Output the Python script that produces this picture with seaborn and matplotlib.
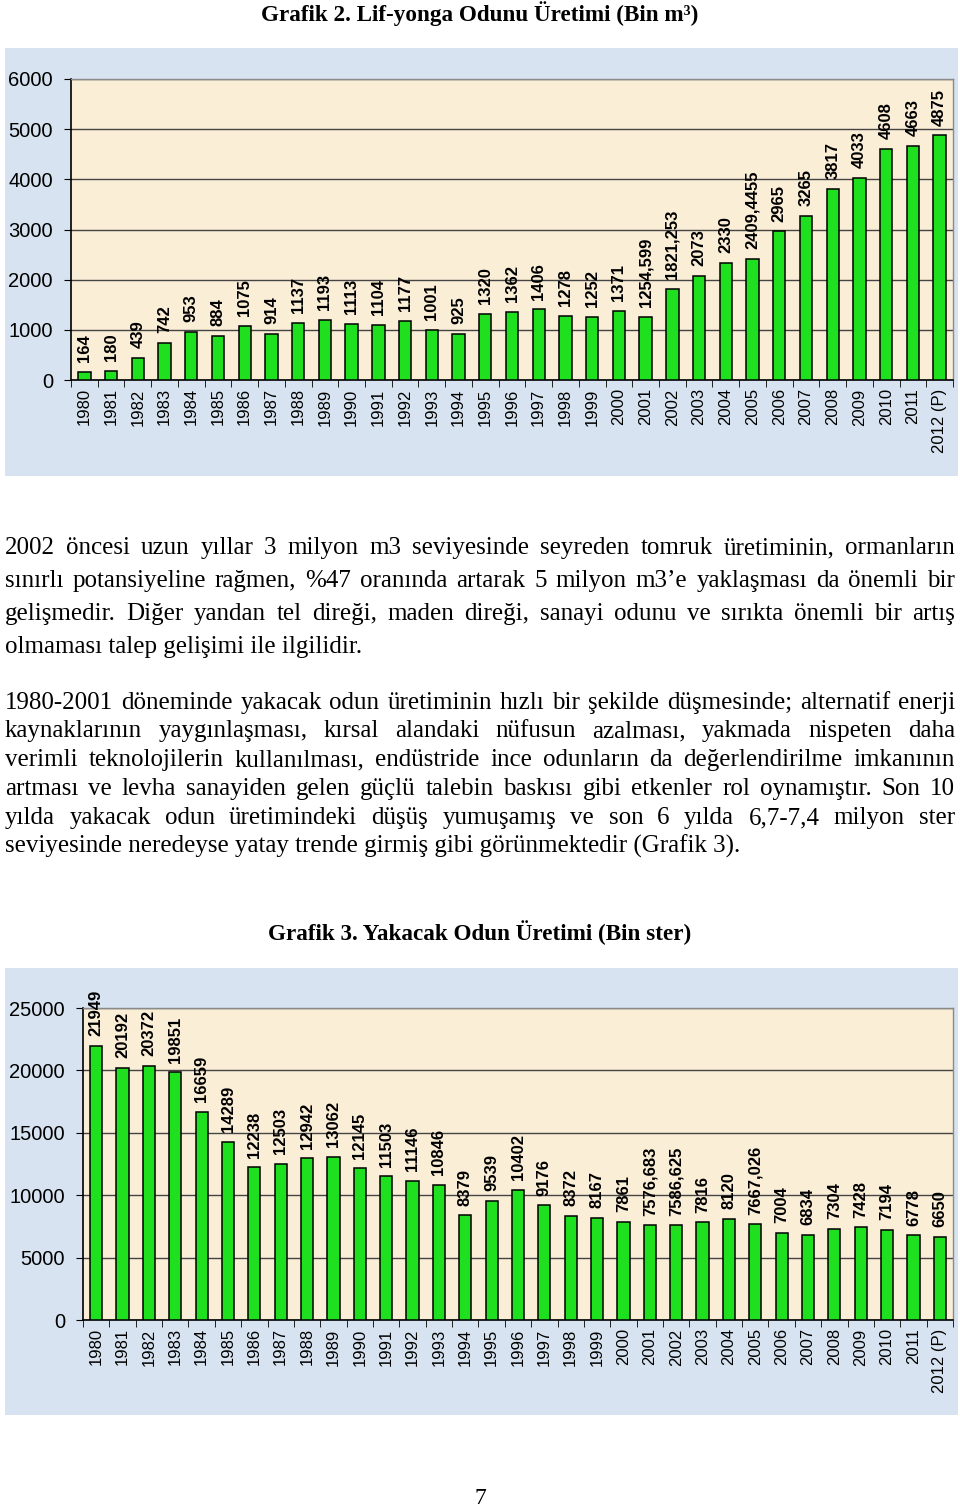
import matplotlib
matplotlib.use("Agg")
import matplotlib.pyplot as plt
import seaborn as sns
import numpy as np
import pandas as pd
from matplotlib.patches import Rectangle
from matplotlib.ticker import MultipleLocator, FixedLocator

# --- data ---
years = [str(y) for y in range(1980, 2012)] + ["2012 (P)"]

lif_yonga = [164, 180, 439, 742, 953, 884, 1075, 914, 1137, 1193, 1113, 1104, 1177,
             1001, 925, 1320, 1362, 1406, 1278, 1252, 1371, 1254.599, 1821.253, 2073,
             2330, 2409.4455, 2965, 3265, 3817, 4033, 4608, 4663, 4875]

yakacak = [21949, 20192, 20372, 19851, 16659, 14289, 12238, 12503, 12942, 13062, 12145,
           11503, 11146, 10846, 8379, 9539, 10402, 9176, 8372, 8167, 7861, 7576.683,
           7586.625, 7816, 8120, 7667.026, 7004, 6834, 7304, 7428, 7194, 6778, 6650]

title1 = "Grafik 2. Lif-yonga Odunu Üretimi (Bin m³)"
title2 = "Grafik 3. Yakacak Odun Üretimi (Bin ster)"

para1 = [
    "2002 öncesi uzun yıllar 3 milyon m3 seviyesinde seyreden tomruk üretiminin, ormanların",
    "sınırlı potansiyeline rağmen, %47 oranında artarak 5 milyon m3’e yaklaşması da önemli bir",
    "gelişmedir. Diğer yandan tel direği, maden direği, sanayi odunu ve sırıkta önemli bir artış",
    "olmaması talep gelişimi ile ilgilidir.",
]
para2 = [
    "1980-2001 döneminde yakacak odun üretiminin hızlı bir şekilde düşmesinde; alternatif enerji",
    "kaynaklarının yaygınlaşması, kırsal alandaki nüfusun azalması, yakmada nispeten daha",
    "verimli teknolojilerin kullanılması, endüstride ince odunların da değerlendirilme imkanının",
    "artması ve levha sanayiden gelen güçlü talebin baskısı gibi etkenler rol oynamıştır. Son 10",
    "yılda yakacak odun üretimindeki düşüş yumuşamış ve son 6 yılda 6,7-7,4 milyon ster",
    "seviyesinde neredeyse yatay trende girmiş gibi görünmektedir (Grafik 3).",
]

W, H = 960, 1511
fig = plt.figure(figsize=(W / 100, H / 100), dpi=100)
fig.patch.set_facecolor("white")

PANEL = "#d7e3f0"
PLOT_BG = "#fbeed6"
GREEN = "#1ee01e"
SERIF = ["Liberation Serif", "DejaVu Serif"]
SANS = ["Liberation Sans", "DejaVu Sans"]


def px_rect(x0, y0, x1, y1):
    return [x0 / W, 1 - y1 / H, (x1 - x0) / W, (y1 - y0) / H]


def draw_chart(panel, area, values, ymax, ystep):
    x0, y0, x1, y1 = panel
    fig.patches.append(Rectangle((x0 / W, 1 - y1 / H), (x1 - x0) / W, (y1 - y0) / H,
                                 transform=fig.transFigure, facecolor=PANEL,
                                 edgecolor="none", zorder=-5))
    ax = fig.add_axes(px_rect(*area))
    ax.set_facecolor(PLOT_BG)
    df = pd.DataFrame({"yil": years, "deger": values})
    sns.barplot(data=df, x="yil", y="deger", order=years, color=GREEN, saturation=1,
                width=0.46, edgecolor="black", linewidth=1.1, ax=ax, zorder=3)
    ax.set_xlim(-0.5, len(years) - 0.5)
    ax.set_ylim(0, ymax)
    ax.yaxis.set_major_locator(MultipleLocator(ystep))
    ax.grid(axis="y", color="#444444", linewidth=1, zorder=1)
    ax.set_axisbelow(True)
    ax.set_xlabel("")
    ax.set_ylabel("")
    ax.set_xticks(range(len(years)))
    ax.set_xticklabels(years, rotation=90, fontsize=12, family=SANS)
    ax.tick_params(axis="x", length=0, pad=6)
    ax.xaxis.set_minor_locator(FixedLocator(np.arange(-0.5, len(years), 1)))
    ax.tick_params(axis="x", which="minor", length=5, direction="out", color="black")
    ax.tick_params(axis="y", length=5, direction="out", labelsize=14.5, pad=8)
    for t in ax.get_yticklabels():
        t.set_family(SANS)
    for s in ["top", "right"]:
        ax.spines[s].set_color("#8a8a8a")
        ax.spines[s].set_linewidth(1)
    for s in ["left", "bottom"]:
        ax.spines[s].set_color("black")
        ax.spines[s].set_linewidth(1.2)
    for i, v in enumerate(values):
        lab = str(v).replace(".", ",")
        ax.annotate(lab, (i, v), xytext=(0, 7), textcoords="offset points",
                    rotation=90, ha="center", va="bottom", fontsize=12,
                    fontweight="bold", family=SANS, zorder=4)
    return ax


draw_chart((5, 48, 958, 476), (71, 79, 953, 380), lif_yonga, 6000, 1000)
draw_chart((5, 968, 958, 1415), (83, 1008, 953, 1320), yakacak, 25000, 5000)

# titles
fig.text(480 / W, 1 - 14 / H, title1, ha="center", va="center", fontsize=16.7,
         fontweight="bold", family=SERIF)
fig.text(480 / W, 1 - 933 / H, title2, ha="center", va="center", fontsize=16.7,
         fontweight="bold", family=SERIF)

# paragraphs (justified)
renderer = fig.canvas.get_renderer()
FS = 18
LEFT, RIGHT = 5, 955


def put_line(line, ypx, justify):
    yb = 1 - (ypx + 7) / H
    words = line.split(" ")
    if not justify:
        fig.text(LEFT / W, yb, line, ha="left", va="baseline", fontsize=FS, family=SERIF)
        return
    objs = [fig.text(0, yb, w, ha="left", va="baseline", fontsize=FS, family=SERIF)
            for w in words]
    widths = [o.get_window_extent(renderer).width for o in objs]
    gap = (RIGHT - LEFT - sum(widths)) / (len(words) - 1)
    x = LEFT
    for o, w in zip(objs, widths):
        o.set_x(x / W)
        x += w + gap


for k, (line, y) in enumerate(zip(para1, [547, 580, 613, 646])):
    put_line(line, y, k < len(para1) - 1)
for k, (line, y) in enumerate(zip(para2, [702, 730, 759, 788, 817, 846])):
    put_line(line, y, k < len(para2) - 1)

fig.text(480 / W, 1 - 1499 / H, "7", ha="center", va="center", fontsize=17, family=SERIF)

fig.savefig("out.png", dpi=100)
